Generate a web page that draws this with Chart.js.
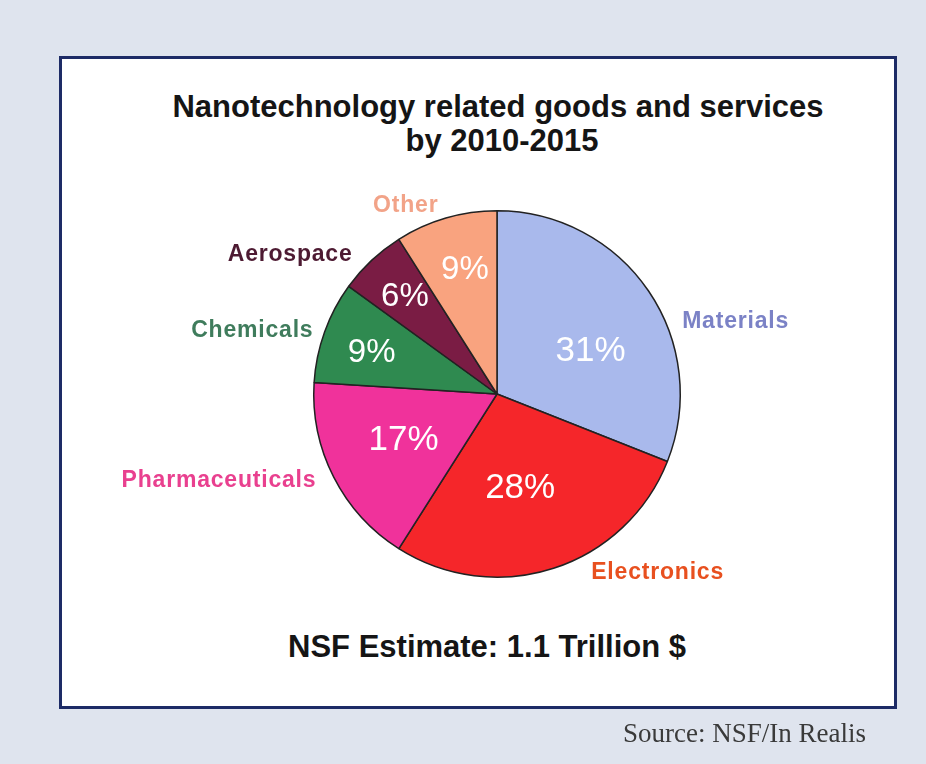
<!DOCTYPE html>
<html>
<head>
<meta charset="utf-8">
<script src="https://cdn.jsdelivr.net/npm/chart.js@4"></script>
<style>
  html, body { margin: 0; padding: 0; }
  body { width: 926px; height: 764px; background: #dfe4ee; position: relative; overflow: hidden; font-family: "Liberation Sans", Arial, sans-serif; }
  #box { position: absolute; left: 59px; top: 56px; width: 832px; height: 647px; background: #ffffff; border: 3.5px solid #1d2b66; }
  #wrap { position: absolute; left: 0; top: 0; width: 926px; height: 764px; }
  .title { position: absolute; white-space: nowrap; text-align: center; font-weight: bold; color: #151515; font-size: 31px; line-height: 34px; transform: translateX(-50%); }
  #source { position: absolute; right: 60px; top: 716px; font-family: "Liberation Serif", "Times New Roman", serif; font-size: 27px; color: #3a3a3a; line-height: 34px; }
</style>
</head>
<body>
<div id="box"></div>
<div class="title" style="top:90px; left:498px;">Nanotechnology related goods and services</div>
<div class="title" style="top:124px; left:502px;">by 2010-2015</div>
<div class="title" style="top:630px; left:487px;">NSF Estimate: 1.1 Trillion $</div>
<div id="wrap"><canvas id="c" width="926" height="764"></canvas></div>
<div id="source">Source: NSF/In Realis</div>
<script>
const categories = ["Materials", "Electronics", "Pharmaceuticals", "Chemicals", "Aerospace", "Other"];
const shares = [31, 28, 17, 9, 6, 9];
const percentLabels = ["31%", "28%", "17%", "9%", "6%", "9%"];

const sliceColors = ["#a9b9ec", "#f5262a", "#f0329b", "#2f8a50", "#7a1c44", "#f9a37f"];
const nameColors = ["#7b82c6", "#e8501f", "#e9408f", "#3f7c5c", "#4d1a32", "#f2a388"];

// label placement (style): polar angle (deg from top, clockwise) and distance as fraction of radius
const nameAngle = [73.2, 138.0, 252.6, 284.6, 303.9, 334.1];
const nameDist = [1.36, 1.31, 1.59, 1.38, 1.36, 1.14];
const pctAngleOffset = [9.9, 4.2, 0.4, -1.6, -0.3, 1.7];
const pctDist = [0.56, 0.53, 0.57, 0.72, 0.73, 0.70];

const labelPlugin = {
  id: 'sliceLabels',
  afterDatasetsDraw(chart) {
    const ctx = chart.ctx;
    const meta = chart.getDatasetMeta(0);
    ctx.save();
    ctx.textAlign = 'center';
    ctx.textBaseline = 'middle';
    meta.data.forEach((arc, i) => {
      const p = arc.getProps(['x', 'y', 'startAngle', 'endAngle', 'outerRadius'], true);
      const R = p.outerRadius;
      const mid = (p.startAngle + p.endAngle) / 2 + pctAngleOffset[i] * Math.PI / 180;
      const px = p.x + Math.cos(mid) * R * pctDist[i];
      const py = p.y + Math.sin(mid) * R * pctDist[i];
      ctx.font = (i >= 3 ? '33px' : '35px') + ' "Liberation Sans", Arial, sans-serif';
      ctx.fillStyle = '#ffffff';
      ctx.fillText(percentLabels[i], px, py);
      const a = nameAngle[i] * Math.PI / 180;
      const nx = p.x + Math.sin(a) * R * nameDist[i];
      const ny = p.y - Math.cos(a) * R * nameDist[i];
      ctx.font = 'bold 23px "Liberation Sans", Arial, sans-serif';
      ctx.fillStyle = nameColors[i];
      try { ctx.letterSpacing = '0.8px'; } catch (e) {}
      ctx.fillText(categories[i], nx, ny);
      try { ctx.letterSpacing = '0px'; } catch (e) {}
    });
    ctx.restore();
  }
};

new Chart(document.getElementById('c'), {
  type: 'pie',
  data: {
    labels: categories,
    datasets: [{
      data: shares,
      backgroundColor: sliceColors,
      borderColor: '#222222',
      borderWidth: 1.5
    }]
  },
  options: {
    responsive: false,
    animation: false,
    layout: { padding: { left: 313, right: 245, top: 210, bottom: 186 } },
    plugins: { legend: { display: false }, tooltip: { enabled: false } }
  },
  plugins: [labelPlugin]
});
</script>
</body>
</html>
